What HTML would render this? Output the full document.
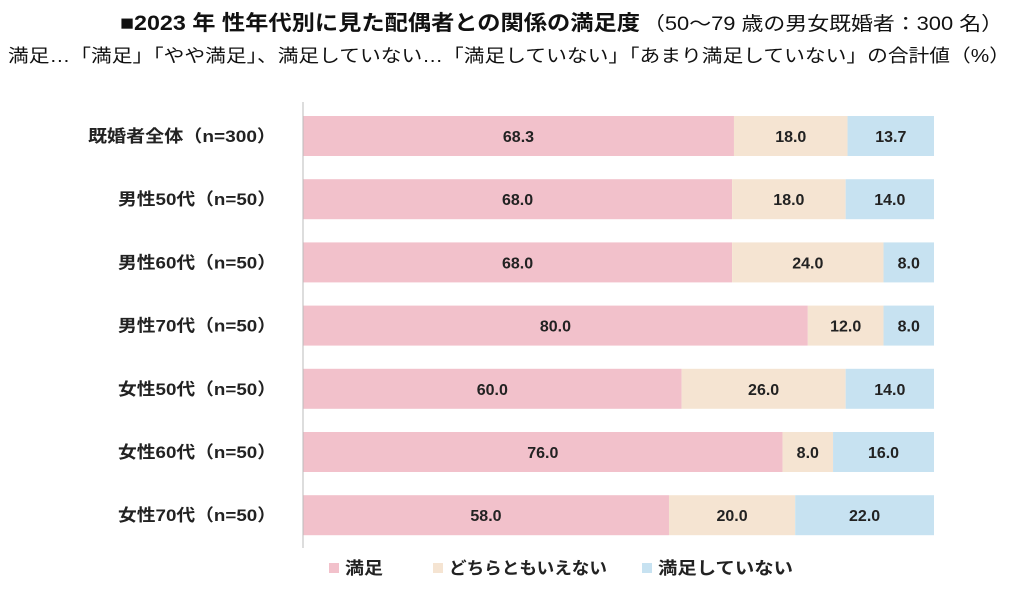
<!DOCTYPE html>
<html><head><meta charset="utf-8">
<style>
body{margin:0;background:#fff;width:1026px;height:594px;overflow:hidden;font-family:"Liberation Sans","Noto Sans CJK JP",sans-serif;}
</style></head><body>
<svg width="1026" height="594" xmlns="http://www.w3.org/2000/svg" id="chart" style="font-family:'Liberation Sans','Noto Sans CJK JP',sans-serif">
<text x="120" y="30" font-size="21" font-weight="bold" fill="#111" textLength="520" lengthAdjust="spacingAndGlyphs">■2023 年  性年代別に見た配偶者との関係の満足度</text>
<text x="643" y="30" font-size="19" fill="#111" textLength="360" lengthAdjust="spacingAndGlyphs">（50～79 歳の男女既婚者：300 名）</text>
<text x="8" y="62" font-size="18" fill="#111" textLength="1002" lengthAdjust="spacingAndGlyphs">満足…「満足」「やや満足」、満足していない…「満足していない」「あまり満足していない」の合計値（%）</text>
<g id="bars"></g>
<line x1="303" y1="102" x2="303" y2="548" stroke="#bbb" stroke-width="1"/>
<g>
<rect x="329" y="563" width="10" height="10" fill="#f2c1cb"/>
<text x="345" y="574" font-size="17" font-weight="bold" fill="#222" textLength="38" lengthAdjust="spacingAndGlyphs">満足</text>
<rect x="433" y="563" width="10" height="10" fill="#f5e4d2"/>
<text x="449" y="574" font-size="17" font-weight="bold" fill="#222" textLength="158" lengthAdjust="spacingAndGlyphs">どちらともいえない</text>
<rect x="642" y="563" width="10" height="10" fill="#c7e2f1"/>
<text x="658" y="574" font-size="17" font-weight="bold" fill="#222" textLength="135" lengthAdjust="spacingAndGlyphs">満足していない</text>
</g>
</svg>
<script>
const categories=["既婚者全体（n=300）","男性50代（n=50）","男性60代（n=50）","男性70代（n=50）","女性50代（n=50）","女性60代（n=50）","女性70代（n=50）"];
const satisfied=[68.3,68.0,68.0,80.0,60.0,76.0,58.0];
const neutral=[18.0,18.0,24.0,12.0,26.0,8.0,20.0];
const unsatisfied=[13.7,14.0,8.0,8.0,14.0,16.0,22.0];
const seriesNames=["satisfied","neutral","unsatisfied"];
const colors=["#f2c1cb","#f5e4d2","#c7e2f1"];
const x0=303,plotW=631,y0=116,step=63.2,barH=40;
const xs=v=>v/100*plotW;
const g=document.getElementById('bars');
const NS="http://www.w3.org/2000/svg";
categories.forEach((c,i)=>{
  const y=y0+i*step;
  const t=document.createElementNS(NS,'text');
  const w=i===0?188:158;
  t.setAttribute('x',276-w);t.setAttribute('y',y+barH/2+6);
  t.setAttribute('font-size','17');t.setAttribute('font-weight','bold');t.setAttribute('fill','#222');
  t.setAttribute('textLength',w);t.setAttribute('lengthAdjust','spacingAndGlyphs');
  t.textContent=c;
  
  
  g.appendChild(t);
  let acc=0;
  [satisfied[i],neutral[i],unsatisfied[i]].forEach((v,k)=>{
    const r=document.createElementNS(NS,'rect');
    r.setAttribute('x',x0+xs(acc));r.setAttribute('y',y);r.setAttribute('width',xs(v));r.setAttribute('height',barH);
    r.setAttribute('fill',colors[k]);
    
    
    g.appendChild(r);
    const l=document.createElementNS(NS,'text');
    l.setAttribute('x',x0+xs(acc+v/2));l.setAttribute('y',y+barH/2+6);l.setAttribute('text-anchor','middle');
    l.setAttribute('font-size','16');l.setAttribute('font-weight','bold');l.setAttribute('fill','#222');
    l.textContent=v.toFixed(1);
    
    
    g.appendChild(l);
    acc+=v;
  });
});
</script>
</body></html>
